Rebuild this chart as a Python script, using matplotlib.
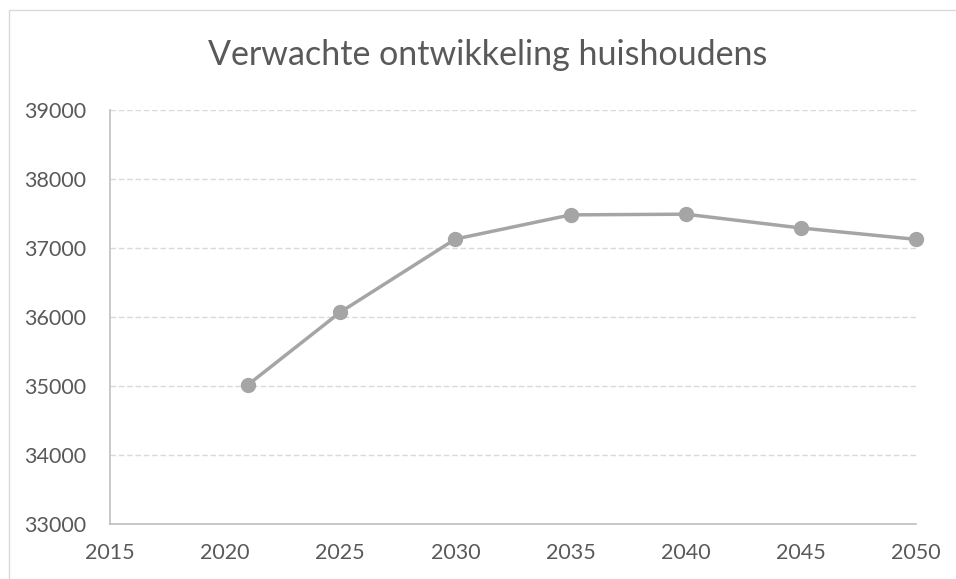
import matplotlib
matplotlib.use("Agg")
import matplotlib.pyplot as plt
from matplotlib.patches import Rectangle

years = [2021, 2025, 2030, 2035, 2040, 2045, 2050]
households = [35020, 36070, 37130, 37480, 37490, 37290, 37125]
xticks = [2015, 2020, 2025, 2030, 2035, 2040, 2045, 2050]
yticks = [33000, 34000, 35000, 36000, 37000, 38000, 39000]
title = "Verwachte ontwikkeling huishoudens"

plt.rcParams['font.family'] = ['Lato', 'DejaVu Sans']
W, H = 956, 579
fig = plt.figure(figsize=(W/100, H/100), dpi=100)
fig.patches.append(Rectangle((9/W, -0.1), 1.2, (H-10)/H + 0.1, transform=fig.transFigure,
                             fill=False, edgecolor='#D9D9D9', linewidth=1))

ax = fig.add_axes([110/W, 55/H, 806/W, 414/H])
ax.plot(years, households, color='#A5A5A5', linewidth=2.5, marker='o', markersize=10,
        markerfacecolor='#A5A5A5', markeredgecolor='#A5A5A5', zorder=3, clip_on=False)
ax.set_xlim(2015, 2050)
ax.set_ylim(33000, 39000)
ax.set_xticks(xticks)
ax.set_yticks(yticks)
ax.set_xticklabels([str(v) for v in xticks])
ax.set_yticklabels([str(v) for v in yticks])
ax.tick_params(axis='both', length=0, labelsize=15.5, labelcolor='#595959')
ax.tick_params(axis='x', pad=14)
ax.tick_params(axis='y', pad=17)
ax.grid(axis='y', color='#D9D9D9', linestyle=(0, (4, 2)), linewidth=1)
ax.set_axisbelow(True)
for s in ['top', 'right']:
    ax.spines[s].set_visible(False)
for s in ['left', 'bottom']:
    ax.spines[s].set_color('#BFBFBF')
    ax.spines[s].set_linewidth(1.2)

fig.text(488/W, 1 - 55/H, title, ha='center', va='center', fontsize=24.5, color='#595959')
fig.savefig('out.png', dpi=100)
